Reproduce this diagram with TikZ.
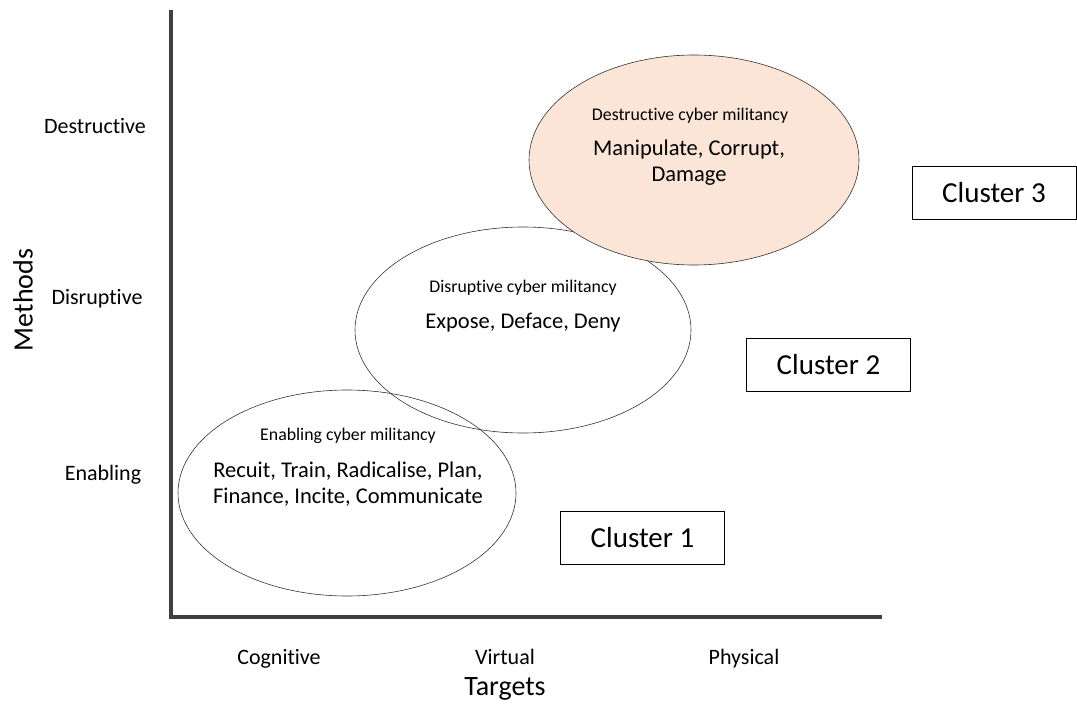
\documentclass[tikz,border=0pt]{standalone}
\usepackage{fontspec}
\setmainfont{Carlito}[Ligatures=NoCommon]
\usetikzlibrary{shapes.geometric}
\definecolor{axisgray}{HTML}{404040}
\definecolor{peach}{HTML}{FBE5D6}
\tikzset{
  axisline/.style={draw=axisgray, line width=3.5pt},
  bubble/.style={draw=black!80, line width=0.6pt},
  clusterbox/.style={draw=black, line width=0.9pt, minimum width=164pt, minimum height=53pt, font=\fontsize{29}{33}\selectfont, inner sep=0pt},
  ticklabel/.style={font=\fontsize{22}{26}\selectfont},
  xticklabel/.style={ticklabel, anchor=base},
  axistitle/.style={font=\fontsize{28}{32}\selectfont},
  smalltitle/.style={font=\fontsize{17.8}{21}\selectfont},
  bigtext/.style={font=\fontsize{22.5}{26}\selectfont, align=center}
}
\begin{document}
\begin{tikzpicture}[x=1pt,y=-1pt]
\useasboundingbox (0,0) rectangle (1077,704);
% bubbles
\draw[bubble] (347,493) ellipse [x radius=169, y radius=103];
\draw[bubble] (523,330) ellipse [x radius=168, y radius=103];
\draw[bubble, fill=peach] (694,160) ellipse [x radius=165, y radius=105];
% axes
\coordinate (top) at (171,10);
\coordinate (origin) at (171,617);
\coordinate (right) at (882,617);
\draw[axisline, line cap=butt, line join=miter] (top) -- (origin) -- (right);
% bubble texts
\node[smalltitle] (t1) at (348,436) {Enabling cyber militancy};
\node[bigtext] (b1) at (348,484) {Recuit, Train, Radicalise, Plan,\\Finance, Incite, Communicate};
\node[smalltitle] (t2) at (523,288) {Disruptive cyber militancy};
\node[bigtext] (b2) at (523,323) {Expose, Deface, Deny};
\node[smalltitle] (t3) at (690,116) {Destructive cyber militancy};
\node[bigtext] (b3) at (689,163) {Manipulate, Corrupt,\\Damage};
% clusters
\node[clusterbox] (c1) at (642.5,537.5) {Cluster 1};
\node[clusterbox] (c2) at (828.5,365) {Cluster 2};
\node[clusterbox] (c3) at (994,193) {Cluster 3};
% y tick labels
\node[ticklabel] (yd) at (95,126) {Destructive};
\node[ticklabel] (yr) at (97,299) {Disruptive};
\node[ticklabel] (ye) at (103,475) {Enabling};
\node[axistitle, rotate=90] (ym) at (23,300) {Methods};
% x tick labels
\node[xticklabel] (xc) at (279,664) {Cognitive};
\node[xticklabel] (xv) at (505,664) {Virtual};
\node[xticklabel] (xp) at (744,664) {Physical};
\node[axistitle] (xt) at (505,689) {Targets};
\end{tikzpicture}
\end{document}
